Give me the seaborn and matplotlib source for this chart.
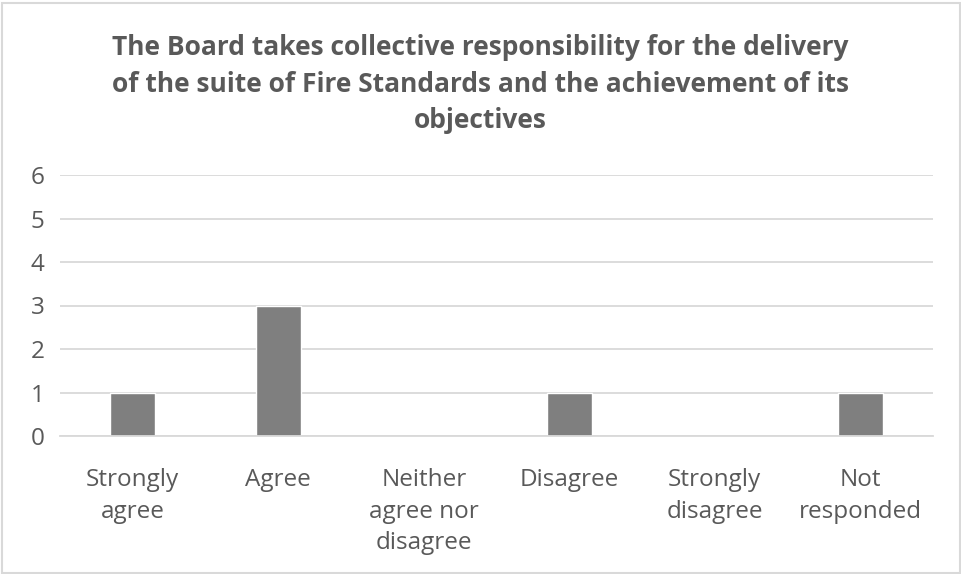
import matplotlib
matplotlib.use("Agg")
import matplotlib.pyplot as plt
import seaborn as sns
import pandas as pd
from matplotlib.patches import Rectangle

categories = ["Strongly\nagree", "Agree", "Neither\nagree nor\ndisagree",
              "Disagree", "Strongly\ndisagree", "Not\nresponded"]
counts = [1, 3, 0, 1, 0, 1]
y_ticks = [0, 1, 2, 3, 4, 5, 6]
title = ("The Board takes collective responsibility for the delivery\n"
         "of the suite of Fire Standards and the achievement of its\n"
         "objectives")

sns.set_theme(style="white")
plt.rcParams["font.family"] = ["Open Sans", "DejaVu Sans"]

text_color = "#595959"
grid_color = "#d9d9d9"
bar_color = "#7f7f7f"

df = pd.DataFrame({"category": categories, "count": counts})

fig = plt.figure(figsize=(9.61, 5.74), dpi=100)
ax = fig.add_axes([60 / 961, 1 - 436 / 574, (933 - 60) / 961, (436 - 175) / 574])

sns.barplot(data=df, x="category", y="count", color=bar_color,
            width=0.31, saturation=1, ax=ax, zorder=3)

ax.set_ylim(0, 6)
ax.set_xlim(-0.5, len(categories) - 0.5)
ax.set_yticks(y_ticks)
ax.yaxis.grid(True, color=grid_color, linewidth=1.3, zorder=0)
ax.set_axisbelow(True)
for side in ["left", "right", "top"]:
    ax.spines[side].set_visible(False)
ax.spines["bottom"].set_color(grid_color)
ax.spines["bottom"].set_linewidth(1.3)
ax.spines["bottom"].set_zorder(4)
ax.set_xlabel("")
ax.set_ylabel("")
ax.tick_params(axis="y", length=0, pad=11, labelsize=17.5, labelcolor=text_color)
ax.tick_params(axis="x", length=0, pad=23, labelsize=17.5, labelcolor=text_color)
for lbl in ax.get_xticklabels():
    lbl.set_linespacing(1.42)
    lbl.set_horizontalalignment("center")

fig.text(0.5, 1 - 84 / 574, title, ha="center", va="center",
         fontsize=19, fontweight="bold", color=text_color, linespacing=1.47)

fig.patches.append(Rectangle((1.5 / 961, 1.5 / 574), 1 - 3 / 961, 1 - 4.5 / 574,
                             transform=fig.transFigure, fill=False,
                             edgecolor=grid_color, linewidth=1.5))

fig.savefig("out.png", dpi=100, facecolor="white")
